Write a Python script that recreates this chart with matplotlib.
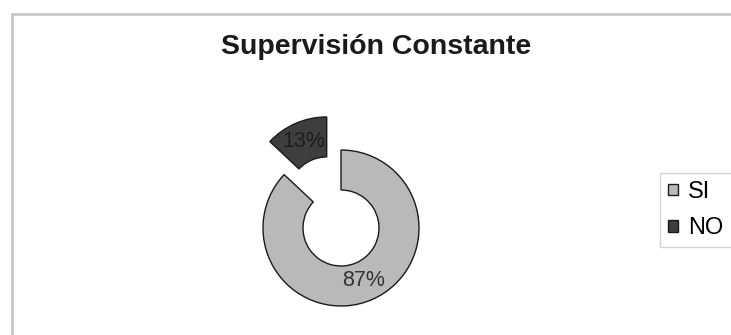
import matplotlib
matplotlib.use("Agg")
import matplotlib.pyplot as plt
from matplotlib.patches import Rectangle

plt.rcParams['font.family'] = ['Liberation Sans', 'DejaVu Sans']

title = "Supervisión Constante"
categories = ["SI", "NO"]
values = [87, 13]
colors = ["#b9b9b9", "#3e3e3e"]
explode_px = [0, 36]

W, H = 731, 335
fig = plt.figure(figsize=(W / 100, H / 100), dpi=100)
fig.patch.set_facecolor("white")

# chart frame
fig.patches.append(Rectangle((12 / W, -0.1), 1.0, (H - 13.5) / H + 0.1,
                             transform=fig.transFigure, fill=False,
                             edgecolor="#c4c4c4", linewidth=1.8))

ax = fig.add_axes([0, 0, 1, 1])
R = 78
cx, cy = 341, H - 228
wedges, texts, autotexts = ax.pie(
    values, colors=colors, startangle=90, counterclock=False,
    radius=R, center=(cx, cy),
    explode=explode_px,
    wedgeprops=dict(width=40, edgecolor="#1a1a1a", linewidth=1.0),
    autopct='%1.0f%%', pctdistance=0.74,
    textprops=dict(fontsize=15.5, color="#333333"),
    frame=True)
autotexts[1].set_color("#1e1e1e")
ax.set_xlim(0, W)
ax.set_ylim(0, H)
ax.set_aspect("auto")
ax.axis("off")

fig.text(376 / W, 1 - 47 / H, title, ha="center", va="center",
         fontsize=20.5, fontweight="bold", color="#1a1a1a")

leg = ax.legend(wedges, categories, loc="center left",
                bbox_to_anchor=(660 / W, 1 - 210 / H), fontsize=17,
                frameon=True, fancybox=False, edgecolor="#c8c8c8",
                handlelength=0.4, handleheight=0.4, handletextpad=0.45,
                borderpad=0.35, labelspacing=0.6, borderaxespad=0)
leg.get_frame().set_linewidth(1.0)

fig.savefig("out.png", dpi=100, facecolor="white")
